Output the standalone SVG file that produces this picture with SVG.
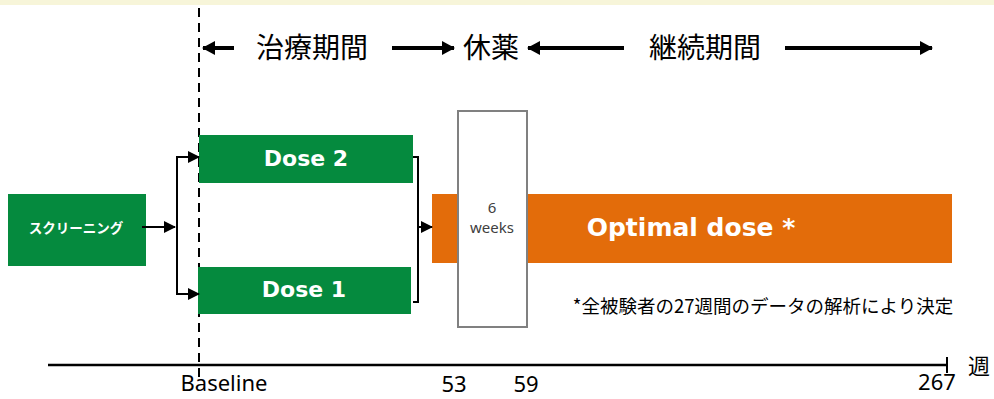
<svg xmlns="http://www.w3.org/2000/svg" width="994" height="399" viewBox="0 0 994 399">
<style>
.jp{font-family:"Noto Sans CJK JP","Noto Sans",sans-serif;fill:#000}
.lbl{font-family:"DejaVu Sans","Noto Sans CJK JP",sans-serif;font-weight:bold;fill:#fff;text-anchor:middle}
.ax{font-family:"Noto Sans","Noto Sans CJK JP",sans-serif;font-size:22px;fill:#000;text-anchor:middle}
.ln{stroke:#000;stroke-width:2;fill:none}
.hd{stroke:#000;stroke-width:4;fill:none}
.green{fill:#058A3E}
</style>
<defs>
<marker id="ah" markerWidth="12" markerHeight="12" refX="11" refY="6" orient="auto" markerUnits="userSpaceOnUse" viewBox="0 0 12 12"><path d="M0,0 L12,6 L0,12 z" fill="#000"/></marker>
<marker id="ahs" markerWidth="13" markerHeight="14" refX="12" refY="7" orient="auto" markerUnits="userSpaceOnUse" viewBox="0 0 13 14"><path d="M0,0 L13,7 L0,14 z" fill="#000"/></marker>
</defs>
<rect x="0" y="0" width="994" height="5" fill="#F7F5D9"/>

<g id="header">
<line class="hd" x1="234" y1="48" x2="203" y2="48" marker-end="url(#ahs)"/>
<text class="jp" x="312" y="58" font-size="28" text-anchor="middle">治療期間</text>
<line class="hd" x1="392" y1="48" x2="454" y2="48" marker-end="url(#ahs)"/>
<text class="jp" x="491" y="58" font-size="28" text-anchor="middle">休薬</text>
<line class="hd" x1="624" y1="48" x2="528" y2="48" marker-end="url(#ahs)"/>
<text class="jp" x="705" y="58" font-size="28" text-anchor="middle">継続期間</text>
<line class="hd" x1="785" y1="48" x2="932" y2="48" marker-end="url(#ahs)"/>
</g>

<g id="baseline-line">
<line x1="199" y1="8" x2="199" y2="378" stroke="#000" stroke-width="2" stroke-dasharray="9,6"/>
</g>

<g id="screening">
<rect class="green" x="8" y="194" width="138" height="72"/>
<text class="lbl" x="76" y="233" font-size="13.5">スクリーニング</text>
</g>

<g id="dose2">
<rect class="green" x="199" y="135" width="214" height="48"/>
<text class="lbl" x="306" y="166" font-size="22">Dose 2</text>
</g>

<g id="dose1">
<rect class="green" x="198" y="267" width="213" height="47"/>
<text class="lbl" x="304" y="297" font-size="22">Dose 1</text>
</g>

<g id="optimal">
<rect x="432" y="194" width="520" height="69" fill="#E36C0A"/>
<text class="lbl" x="691" y="236" font-size="25">Optimal dose *</text>
</g>

<g id="washout">
<rect x="458" y="111" width="69" height="216" fill="#fff" stroke="#808080" stroke-width="2"/>
<text x="492" y="213" font-family="'Noto Sans',sans-serif" font-size="15" fill="#404040" text-anchor="middle">6</text>
<text x="492" y="233" font-family="'Noto Sans',sans-serif" font-size="15" fill="#404040" text-anchor="middle">weeks</text>
</g>

<g id="connectors">
<line class="ln" x1="142" y1="227" x2="175" y2="227" marker-end="url(#ah)"/>
<path class="ln" d="M199,157 H177 V294 H199"/>
<line class="ln" x1="177" y1="157" x2="199" y2="157" marker-end="url(#ah)"/>
<line class="ln" x1="177" y1="294" x2="199" y2="294" marker-end="url(#ah)"/>
<path class="ln" d="M413,157 H418 V302 H413"/>
<line class="ln" x1="418" y1="227" x2="432" y2="227" marker-end="url(#ah)"/>
</g>

<g id="footnote">
<text class="jp" x="763" y="313" font-size="18.5" text-anchor="middle">*全被験者の27週間のデータの解析により決定</text>
</g>

<g id="axis">
<line x1="48" y1="365" x2="947" y2="365" stroke="#000" stroke-width="2.5"/>
<line x1="947" y1="357" x2="947" y2="373" stroke="#000" stroke-width="2"/>
<text class="jp" x="979" y="374" font-size="22" text-anchor="middle">週</text>
<text class="ax" x="224" y="391">Baseline</text>
<text class="ax" x="454" y="392">53</text>
<text class="ax" x="526" y="392">59</text>
<text class="ax" x="937" y="390">267</text>
</g>
</svg>
